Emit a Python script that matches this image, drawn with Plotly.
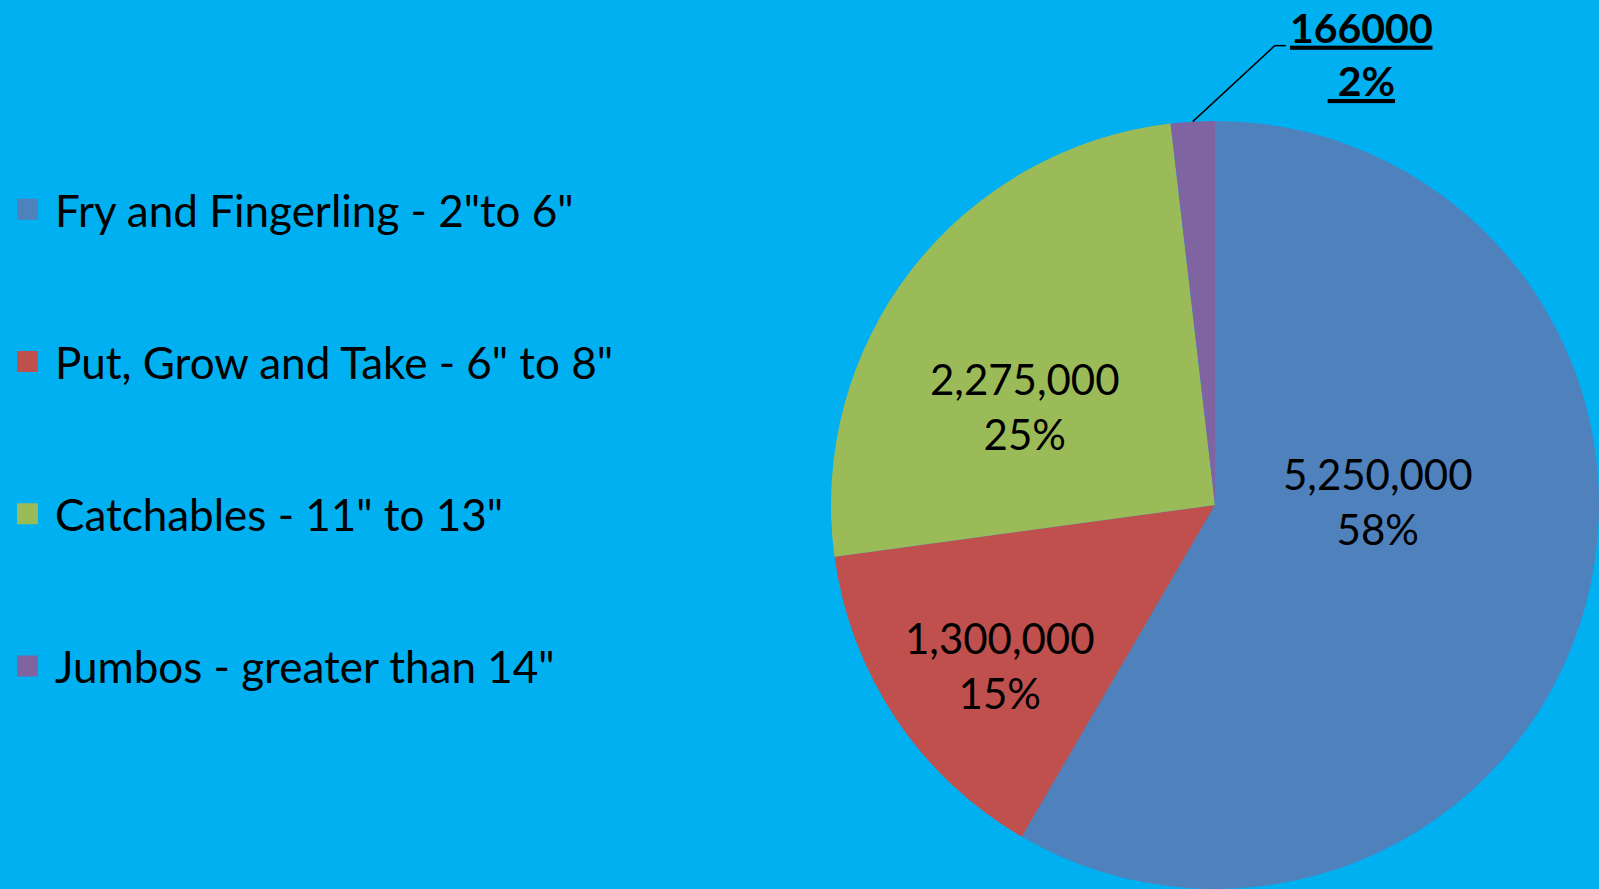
import math
import plotly.graph_objects as go

# ---- data ----
labels = ['Fry and Fingerling - 2"to 6"', 'Put, Grow and Take - 6" to 8"',
          'Catchables - 11" to 13"', 'Jumbos - greater than 14"']
values = [5250000, 1300000, 2275000, 166000]
percent_labels = [58, 15, 25, 2]

# ---- styling ----
colors = ['#4F81BD', '#C0504D', '#9BBB59', '#8064A2']
BG = '#00B0F0'
FONT = 'Lato'
W, H = 1599, 889
dom_x = [831 / W, 1.0]
dom_y = [0.0, 1 - 121 / H]
# label placement inside slices: fraction of radius, angular tweak (deg)
label_r = [0.425, 0.698, 0.557, 0.0]
label_dang = [-16.2, -2.9, -10.3, 0.0]
LEAD_AX, LEAD_AY, LEAD_TAIL = 82, -76, 11

total = sum(values)
is_small = [v / total < 0.05 for v in values]

fig = go.Figure()
fig.add_trace(go.Pie(
    labels=labels, values=values, textinfo='none',
    marker=dict(colors=colors, line=dict(width=0)),
    sort=False, direction='clockwise', rotation=0,
    domain=dict(x=dom_x, y=dom_y), showlegend=False, hoverinfo='label+value',
))

# legend entries (one group per category, so that the gap can be set)
for lab, col in zip(labels, colors):
    fig.add_trace(go.Scatter(
        x=[None], y=[None], mode='markers', name=lab, legendgroup=lab,
        marker=dict(symbol='square', size=16, color=col, line=dict(color=col, width=5)),
        hoverinfo='skip'))

# data labels, placed around each slice's mid angle
cx = (dom_x[0] + dom_x[1]) / 2
cy = (dom_y[0] + dom_y[1]) / 2
R_px = min((dom_x[1] - dom_x[0]) * W, (dom_y[1] - dom_y[0]) * H) / 2
cum = 0
for v, p, s, rf, da in zip(values, percent_labels, is_small, label_r, label_dang):
    theta = 2 * math.pi * (cum + v / 2) / total
    if s:
        px = cx + R_px * math.sin(theta) / W
        py = cy + R_px * math.cos(theta) / H
        fig.add_annotation(
            x=px, y=py, xref='paper', yref='paper',
            text=f'<b><u>{v}</u></b><br><b><u>\u00a0{p}%</u></b>',
            showarrow=True, arrowhead=0, arrowwidth=1.5, arrowcolor='black',
            ax=LEAD_AX, ay=LEAD_AY, xanchor='left', yanchor='middle', align='center',
            borderpad=14, height=118, valign='bottom',
            font=dict(family=FONT, size=41, color='black'))
        tx = px + LEAD_AX / W
        ty = py - LEAD_AY / H
        fig.add_shape(type='line', xref='paper', yref='paper',
                      x0=tx, y0=ty, x1=tx + LEAD_TAIL / W, y1=ty,
                      line=dict(color='black', width=1.5))
    else:
        t = theta + math.radians(da)
        px = cx + rf * R_px * math.sin(t) / W
        py = cy + rf * R_px * math.cos(t) / H
        fig.add_annotation(
            x=px, y=py, xref='paper', yref='paper', showarrow=False,
            text=f'{v:,}<br>{p}%', xanchor='center', yanchor='middle', align='center',
            font=dict(family=FONT, size=42, color='black'))
    cum += v

fig.update_layout(
    width=W, height=H,
    margin=dict(l=0, r=0, t=0, b=0),
    paper_bgcolor=BG, plot_bgcolor=BG,
    xaxis=dict(visible=False), yaxis=dict(visible=False),
    showlegend=True,
    legend=dict(x=0.0, xanchor='left', y=0.804, yanchor='top', itemwidth=45,
                font=dict(family=FONT, size=44, color='black'),
                tracegroupgap=92, bgcolor='rgba(0,0,0,0)', itemclick=False),
)

fig.write_html("out.html", config={'displayModeBar': False},
               post_script="document.body.style.margin='0';document.body.style.overflow='hidden';")
